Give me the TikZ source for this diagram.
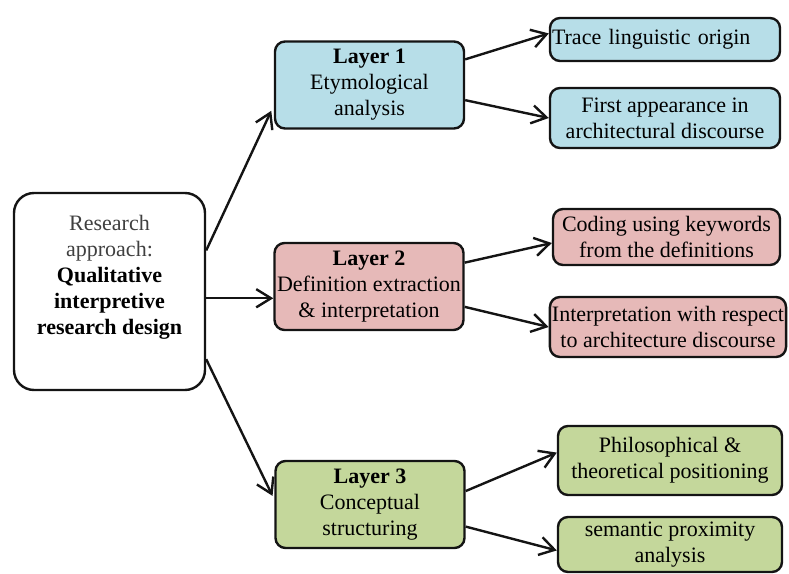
\documentclass[tikz,border=0pt]{standalone}
\usepackage{fontspec}
\setmainfont{Liberation Serif}
\usepackage{xcolor}
\definecolor{layerblue}{RGB}{183,222,232}
\definecolor{layerpink}{RGB}{230,185,184}
\definecolor{layergreen}{RGB}{196,215,155}
\definecolor{edgeblack}{RGB}{20,20,20}
\definecolor{softgray}{RGB}{64,64,64}
\usepackage{tikz}
\usetikzlibrary{positioning,arrows.meta}
\tikzset{
  approach/.style={rectangle,rounded corners=10pt,draw=edgeblack,line width=1.2pt,fill=white,
                   align=center,minimum width=95.5pt,minimum height=98.5pt,inner sep=2pt},
  layer/.style   ={rectangle,rounded corners=5pt,draw=edgeblack,line width=1.2pt,
                   align=center,minimum width=94.5pt,minimum height=43.5pt,inner sep=1pt},
  task/.style    ={rectangle,rounded corners=5pt,draw=edgeblack,line width=1.2pt,
                   align=center,minimum width=115pt,inner sep=1pt},
  flow/.style    ={-{Straight Barb[length=2.6mm,width=3.2mm]},line width=1.2pt,draw=edgeblack},
}

\begin{document}
\begin{tikzpicture}[x=0.5pt,y=-0.5pt,every node/.style={font=\fontsize{11}{13}\selectfont}]
  \useasboundingbox (0,0) rectangle (789,574);
  % research approach
  \node[approach] (rq) at (109.5,291.5) {{\color{softgray}Research}\\{\color{softgray}approach:}\\\textbf{Qualitative}\\\textbf{interpretive}\\\textbf{research design}\\[4pt]};
  % three layers
  \node[layer,fill=layerblue]  (l1) at (369.5,85)  {\textbf{Layer 1}\\Etymological\\analysis};
  \node[layer,fill=layerpink]  (l2) at (369,286.5) {\textbf{Layer 2}\\Definition extraction\\\& interpretation};
  \node[layer,fill=layergreen] (l3) at (370,504.5) {\textbf{Layer 3}\\Conceptual\\structuring};
  % outcomes
  \node[task,fill=layerblue,minimum height=21.5pt,text width=113pt,align=left] (a1) at (665,39.5) {Trace linguistic origin};
  \node[task,fill=layerblue,minimum height=30pt]  (a2) at (665,118)   {First appearance in\\architectural discourse};
  \node[task,fill=layerpink,minimum width=113.5pt,minimum height=28pt] (b1) at (666.5,237) {Coding using keywords\\from the definitions};
  \node[task,fill=layerpink,minimum height=30pt]  (b2) at (668,327)   {Interpretation with respect\\to architecture discourse};
  \node[task,fill=layergreen,minimum width=112pt,minimum height=34.5pt] (c1) at (670,460.5) {Philosophical \&\\theoretical positioning};
  \node[task,fill=layergreen,minimum width=112pt,minimum height=27.5pt] (c2) at (670,544.5) {semantic proximity\\analysis};
  % connectors
  \draw[flow,shorten >=3pt] (rq.23) -- (l1.192);
  \draw[flow] (rq.-4) -- (rq.-4 -| l2.west);
  \draw[flow,shorten >=2pt] (rq.-35) -- (l3.177);
  \draw[flow] (l1.15) -- (a1.177);
  \draw[flow] (l1.-9) -- (a2.west);
  \draw[flow] (l2.14) -- (b1.183);
  \draw[flow] (l2.-12) -- (b2.west);
  \draw[flow] (l3.8) -- (c1.176);
  \draw[flow] (l3.-13) -- (c2.183);
\end{tikzpicture}
\end{document}
